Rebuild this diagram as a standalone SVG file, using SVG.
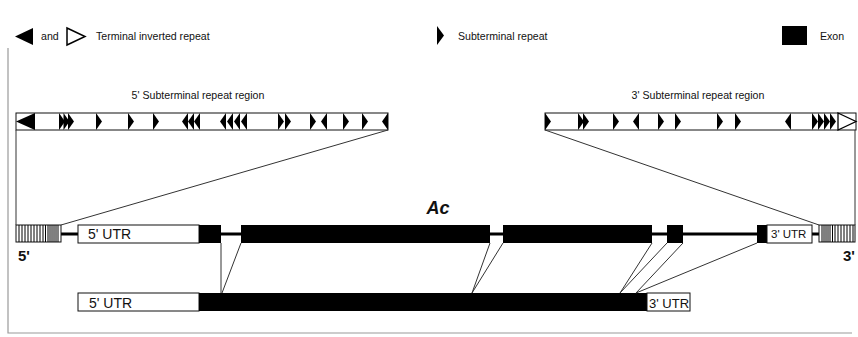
<svg xmlns="http://www.w3.org/2000/svg" xmlns:xlink="http://www.w3.org/1999/xlink" width="858" height="337" viewBox="0 0 858 337">
<style>
text{font-family:"Liberation Sans",Arial,sans-serif;fill:#111}
.lg{font-size:10.6px}
.utr{font-size:14px}
.box{fill:#fff;stroke:#111;stroke-width:1}
.ex{fill:#000}
.tri{fill:#000}
.cn{stroke:#333;stroke-width:1;fill:none}
.frame{stroke:#9a9a9a;stroke-width:1.2;fill:none}
.stripe{stroke:#000;stroke-width:1}
</style>
<defs>
<path id="r" d="M0,113 L6,121.5 L0,130 Z"/>
<path id="l" d="M6,113 L0,121.5 L6,130 Z"/>
</defs>
<rect x="0" y="0" width="858" height="337" fill="#fff"/>
<path class="frame" d="M8,48 V333 H852"/>

<g id="legend">
<polygon class="tri" points="15,36.5 33,28 33,45"/>
<text class="lg" x="41" y="40">and</text>
<polygon points="67,28 85,36.5 67,45" fill="#fff" stroke="#000" stroke-width="1.5"/>
<text class="lg" x="96" y="40">Terminal inverted repeat</text>
<polygon class="tri" points="437,26 444,35.5 437,45"/>
<text class="lg" x="458" y="40">Subterminal repeat</text>
<rect class="ex" x="782" y="26" width="25" height="19"/>
<text class="lg" x="820" y="40">Exon</text>
</g>

<g id="region5">
<text class="lg" x="198" y="99" text-anchor="middle">5' Subterminal repeat region</text>
<rect class="box" x="16" y="113" width="372" height="17"/>
<polygon class="tri" points="16,121.5 35,113 35,130"/>
<g class="tri">
<use xlink:href="#r" x="59"/><use xlink:href="#r" x="63.5"/><use xlink:href="#r" x="68"/>
<use xlink:href="#r" x="96"/><use xlink:href="#r" x="128"/><use xlink:href="#r" x="153"/>
<use xlink:href="#l" x="182"/><use xlink:href="#l" x="188"/><use xlink:href="#l" x="194"/>
<use xlink:href="#l" x="220"/><use xlink:href="#l" x="227"/><use xlink:href="#l" x="234"/><use xlink:href="#l" x="241"/>
<use xlink:href="#r" x="278"/><use xlink:href="#r" x="285"/>
<use xlink:href="#r" x="310"/><use xlink:href="#l" x="321"/><use xlink:href="#r" x="343"/><use xlink:href="#r" x="362"/>
<use xlink:href="#l" x="382"/>
</g>
</g>

<g id="region3">
<text class="lg" x="698" y="99" text-anchor="middle">3' Subterminal repeat region</text>
<rect class="box" x="545" y="113" width="311" height="17"/>
<g class="tri">
<use xlink:href="#r" x="545"/><use xlink:href="#r" x="578"/><use xlink:href="#r" x="583"/>
<use xlink:href="#r" x="613"/><use xlink:href="#l" x="633"/><use xlink:href="#r" x="658"/><use xlink:href="#r" x="675"/>
<use xlink:href="#r" x="717"/><use xlink:href="#r" x="735"/><use xlink:href="#l" x="785"/>
<use xlink:href="#r" x="812"/><use xlink:href="#r" x="818"/><use xlink:href="#r" x="824"/><use xlink:href="#r" x="830"/>
</g>
<polygon points="838,113 856,121.5 838,130" fill="#fff" stroke="#000" stroke-width="1.3"/>
</g>

<g id="gene">
<line x1="61" y1="234" x2="819" y2="234" stroke="#000" stroke-width="3"/>
<g id="tir5">
<rect class="box" x="16" y="225" width="45" height="17"/>
<path class="stripe" d="M19,225V242M22,225V242M25,225V242M28,225V242M31,225V242M34,225V242M37,225V242M40,225V242M43,225V242M45.5,225V242M48,225V242M50,225V242M52,225V242M54,225V242M56,225V242M58,225V242"/>
</g>
<g id="utr5">
<rect class="box" x="78" y="225" width="121" height="18"/>
<text class="utr" x="88" y="239">5' UTR</text>
</g>
<rect id="exon1" class="ex" x="199" y="225" width="22" height="18"/>
<rect id="exon2" class="ex" x="241" y="225" width="249" height="18"/>
<rect id="exon3" class="ex" x="503" y="225" width="149" height="18"/>
<rect id="exon4" class="ex" x="667" y="225" width="16" height="18"/>
<rect id="exon5" class="ex" x="757" y="225" width="10" height="18"/>
<g id="utr3">
<rect class="box" x="767" y="225" width="45" height="18"/>
<text x="771" y="238" font-size="11.5">3' UTR</text>
</g>
<g id="tir3">
<rect class="box" x="819" y="225" width="36" height="17"/>
<path class="stripe" d="M822,225V242M824,225V242M826,225V242M828,225V242M830,225V242M832.5,225V242M835,225V242M838,225V242M841,225V242M844,225V242M847,225V242M850,225V242M853,225V242"/>
</g>
<text x="438" y="214" text-anchor="middle" font-size="18" font-weight="bold" font-style="italic">Ac</text>
<text x="18" y="261" font-size="15" font-weight="bold">5'</text>
<text x="843" y="261" font-size="15" font-weight="bold">3'</text>
</g>

<g id="mrna">
<rect class="box" x="78" y="293" width="121" height="18"/>
<text class="utr" x="89" y="308">5' UTR</text>
<rect class="ex" x="199" y="293" width="448" height="18"/>
<rect class="box" x="647" y="293" width="43" height="18"/>
<text x="649" y="307.5" font-size="13">3' UTR</text>
</g>

<g id="connectors" class="cn">
<line x1="16" y1="130" x2="16" y2="225"/>
<line x1="388" y1="130" x2="61" y2="225"/>
<line x1="545" y1="130" x2="819" y2="225"/>
<line x1="855" y1="130" x2="855" y2="225"/>
<line x1="221" y1="243" x2="221" y2="293"/>
<line x1="241" y1="243" x2="222" y2="293"/>
<line x1="490" y1="243" x2="472" y2="293"/>
<line x1="503" y1="243" x2="472" y2="293"/>
<line x1="652" y1="243" x2="620" y2="293"/>
<line x1="667" y1="243" x2="620" y2="293"/>
<line x1="683" y1="243" x2="636" y2="293"/>
<line x1="757" y1="243" x2="636" y2="293"/>
</g>
</svg>
